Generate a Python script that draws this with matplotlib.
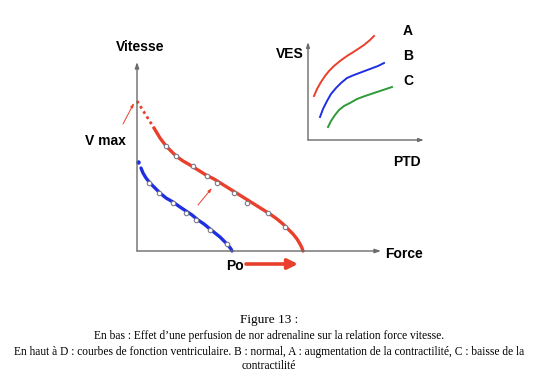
import matplotlib
matplotlib.use("Agg")
import matplotlib.pyplot as plt

# ---------------------------------------------------------------------------
# Data (in the figure's own pixel frame)
# ---------------------------------------------------------------------------

# force-vitesse, nor adrenaline (red) : solid part + dotted extrapolation
RED_X = [154, 157, 160, 163, 166, 170, 176, 183, 190, 198, 206, 214, 222, 230,
         238, 246, 254, 262, 270, 277, 283, 288, 293, 297, 300, 302, 303]
RED_Y = [128, 133, 138, 142, 146, 150, 156, 161, 165, 170, 175, 179, 184, 189,
         194, 199, 204, 209, 214, 219, 224, 229, 234, 239, 244, 248, 251]
RED_DOT_X = [137, 154]
RED_DOT_Y = [101, 128]
RED_MK_X = [166, 176, 193, 207, 217, 234, 247, 268, 285]
RED_MK_Y = [146, 156, 166, 176, 183, 193, 203, 213, 227]

# force-vitesse, normal (blue)
BLUE_X = [141, 143, 146, 150, 155, 160, 166, 173, 180, 186, 192, 198, 204,
          210, 215, 220, 224, 228, 231, 232]
BLUE_Y = [168, 173, 178, 183, 188, 193, 198, 202, 207, 211, 215, 220, 224,
          229, 233, 237, 241, 245, 249, 251]
BLUE_MK_X = [149, 159, 173, 186, 196, 210, 227]
BLUE_MK_Y = [183, 193, 203, 213, 220, 230, 244]

# inset : courbes de fonction ventriculaire
A_X = [314, 317, 321, 325, 329, 334, 340, 347, 355, 364, 370, 374]
A_Y = [96, 89, 82, 76, 71, 66, 61, 56, 51, 45, 40, 36]
B_X = [320, 323, 327, 331, 336, 341, 347, 354, 362, 370, 378, 384]
B_Y = [117, 109, 101, 94, 88, 83, 78, 75, 72, 69, 66, 63]
C_X = [328, 331, 335, 339, 344, 350, 357, 365, 374, 383, 392]
C_Y = [127, 121, 115, 110, 106, 103, 99, 96, 93, 90, 87]

CAPTION = [
    "Figure 13 :",
    "En bas : Effet d\u2019une perfusion de nor adrenaline sur la relation force vitesse.",
    "En haut à D : courbes de fonction ventriculaire. B : normal, A : augmentation de la contractilité, C : baisse de la",
    "contractilité",
]

RED = "#e8402c"
BLUE = "#1f2fe0"
GREEN = "#2e9a3a"
AXC = "#6b6b6b"


def arrow(ax, x0, y0, x1, y1, color, lw, head):
    ax.annotate("", xy=(x1, y1), xytext=(x0, y0),
                arrowprops=dict(arrowstyle=head, color=color, lw=lw,
                                shrinkA=0, shrinkB=0))


fig = plt.figure(figsize=(5.38, 3.84), dpi=100)
ax = fig.add_axes([0, 0, 1, 1])
ax.set_xlim(0, 538)
ax.set_ylim(384, 0)
ax.axis("off")

bold = dict(family=["Liberation Sans", "DejaVu Sans"], fontweight="bold", fontsize=10)

# --- main axes ---
arrow(ax, 137, 251, 137, 62, AXC, 1.0, "-|>,head_length=0.35,head_width=0.12")
arrow(ax, 137, 251, 381, 251, AXC, 1.0, "-|>,head_length=0.35,head_width=0.12")
ax.text(140, 47, "Vitesse", ha="center", va="center", **bold)
ax.text(385, 254, "Force", ha="left", va="center", **bold)
ax.text(105, 141, "V max", ha="center", va="center", **bold)
ax.text(235, 266, "Po", ha="center", va="center", **bold)
arrow(ax, 246, 264, 298, 264, RED, 2.6, "-|>,head_length=0.6,head_width=0.3")

# curves
ax.plot(RED_DOT_X, RED_DOT_Y, color=RED, lw=2, ls=(0, (1, 1.2)))
ax.plot(RED_X, RED_Y, color=RED, lw=2.4, solid_capstyle="round",
        solid_joinstyle="round")
ax.plot(RED_MK_X, RED_MK_Y, ls="none", marker="o", ms=3.2, mfc="white",
        mec="#7a7a8a", mew=0.8)
ax.plot(BLUE_X, BLUE_Y, color=BLUE, lw=2.4, solid_capstyle="round",
        solid_joinstyle="round")
ax.plot([137.5], [162], ls="none", marker="o", ms=2.2, color=BLUE)
ax.plot(BLUE_MK_X, BLUE_MK_Y, ls="none", marker="o", ms=3.2, mfc="white",
        mec="#7a7a8a", mew=0.8)

# thin red pointers
arrow(ax, 123, 124, 134, 103, RED, 0.7, "-|>,head_length=0.25,head_width=0.08")
arrow(ax, 198, 205, 212, 188, RED, 0.7, "-|>,head_length=0.25,head_width=0.08")

# --- inset ---
arrow(ax, 308, 140, 308, 42, AXC, 1.0, "-|>,head_length=0.3,head_width=0.1")
arrow(ax, 308, 140, 424, 140, AXC, 1.0, "-|>,head_length=0.3,head_width=0.1")
ax.plot(A_X, A_Y, color=RED, lw=1.4, solid_joinstyle="round")
ax.plot(B_X, B_Y, color=BLUE, lw=1.4, solid_joinstyle="round")
ax.plot(C_X, C_Y, color=GREEN, lw=1.4, solid_joinstyle="round")
ax.text(290, 54, "VES", ha="center", va="center", **bold)
ax.text(407, 162, "PTD", ha="center", va="center", **bold)
for lab, y in zip(["A", "B", "C"], [31, 56, 81]):
    ax.text(408, y, lab, ha="center", va="center", **bold)

# --- caption ---
serif = ["Liberation Serif", "DejaVu Serif"]
ax.text(269, 320, CAPTION[0], ha="center", va="center", family=serif, fontsize=9.5)
for line, y in zip(CAPTION[1:], [336, 352, 366]):
    ax.text(269, y, line, ha="center", va="center", family=serif, fontsize=8.3)

fig.savefig("out.png", dpi=100)
